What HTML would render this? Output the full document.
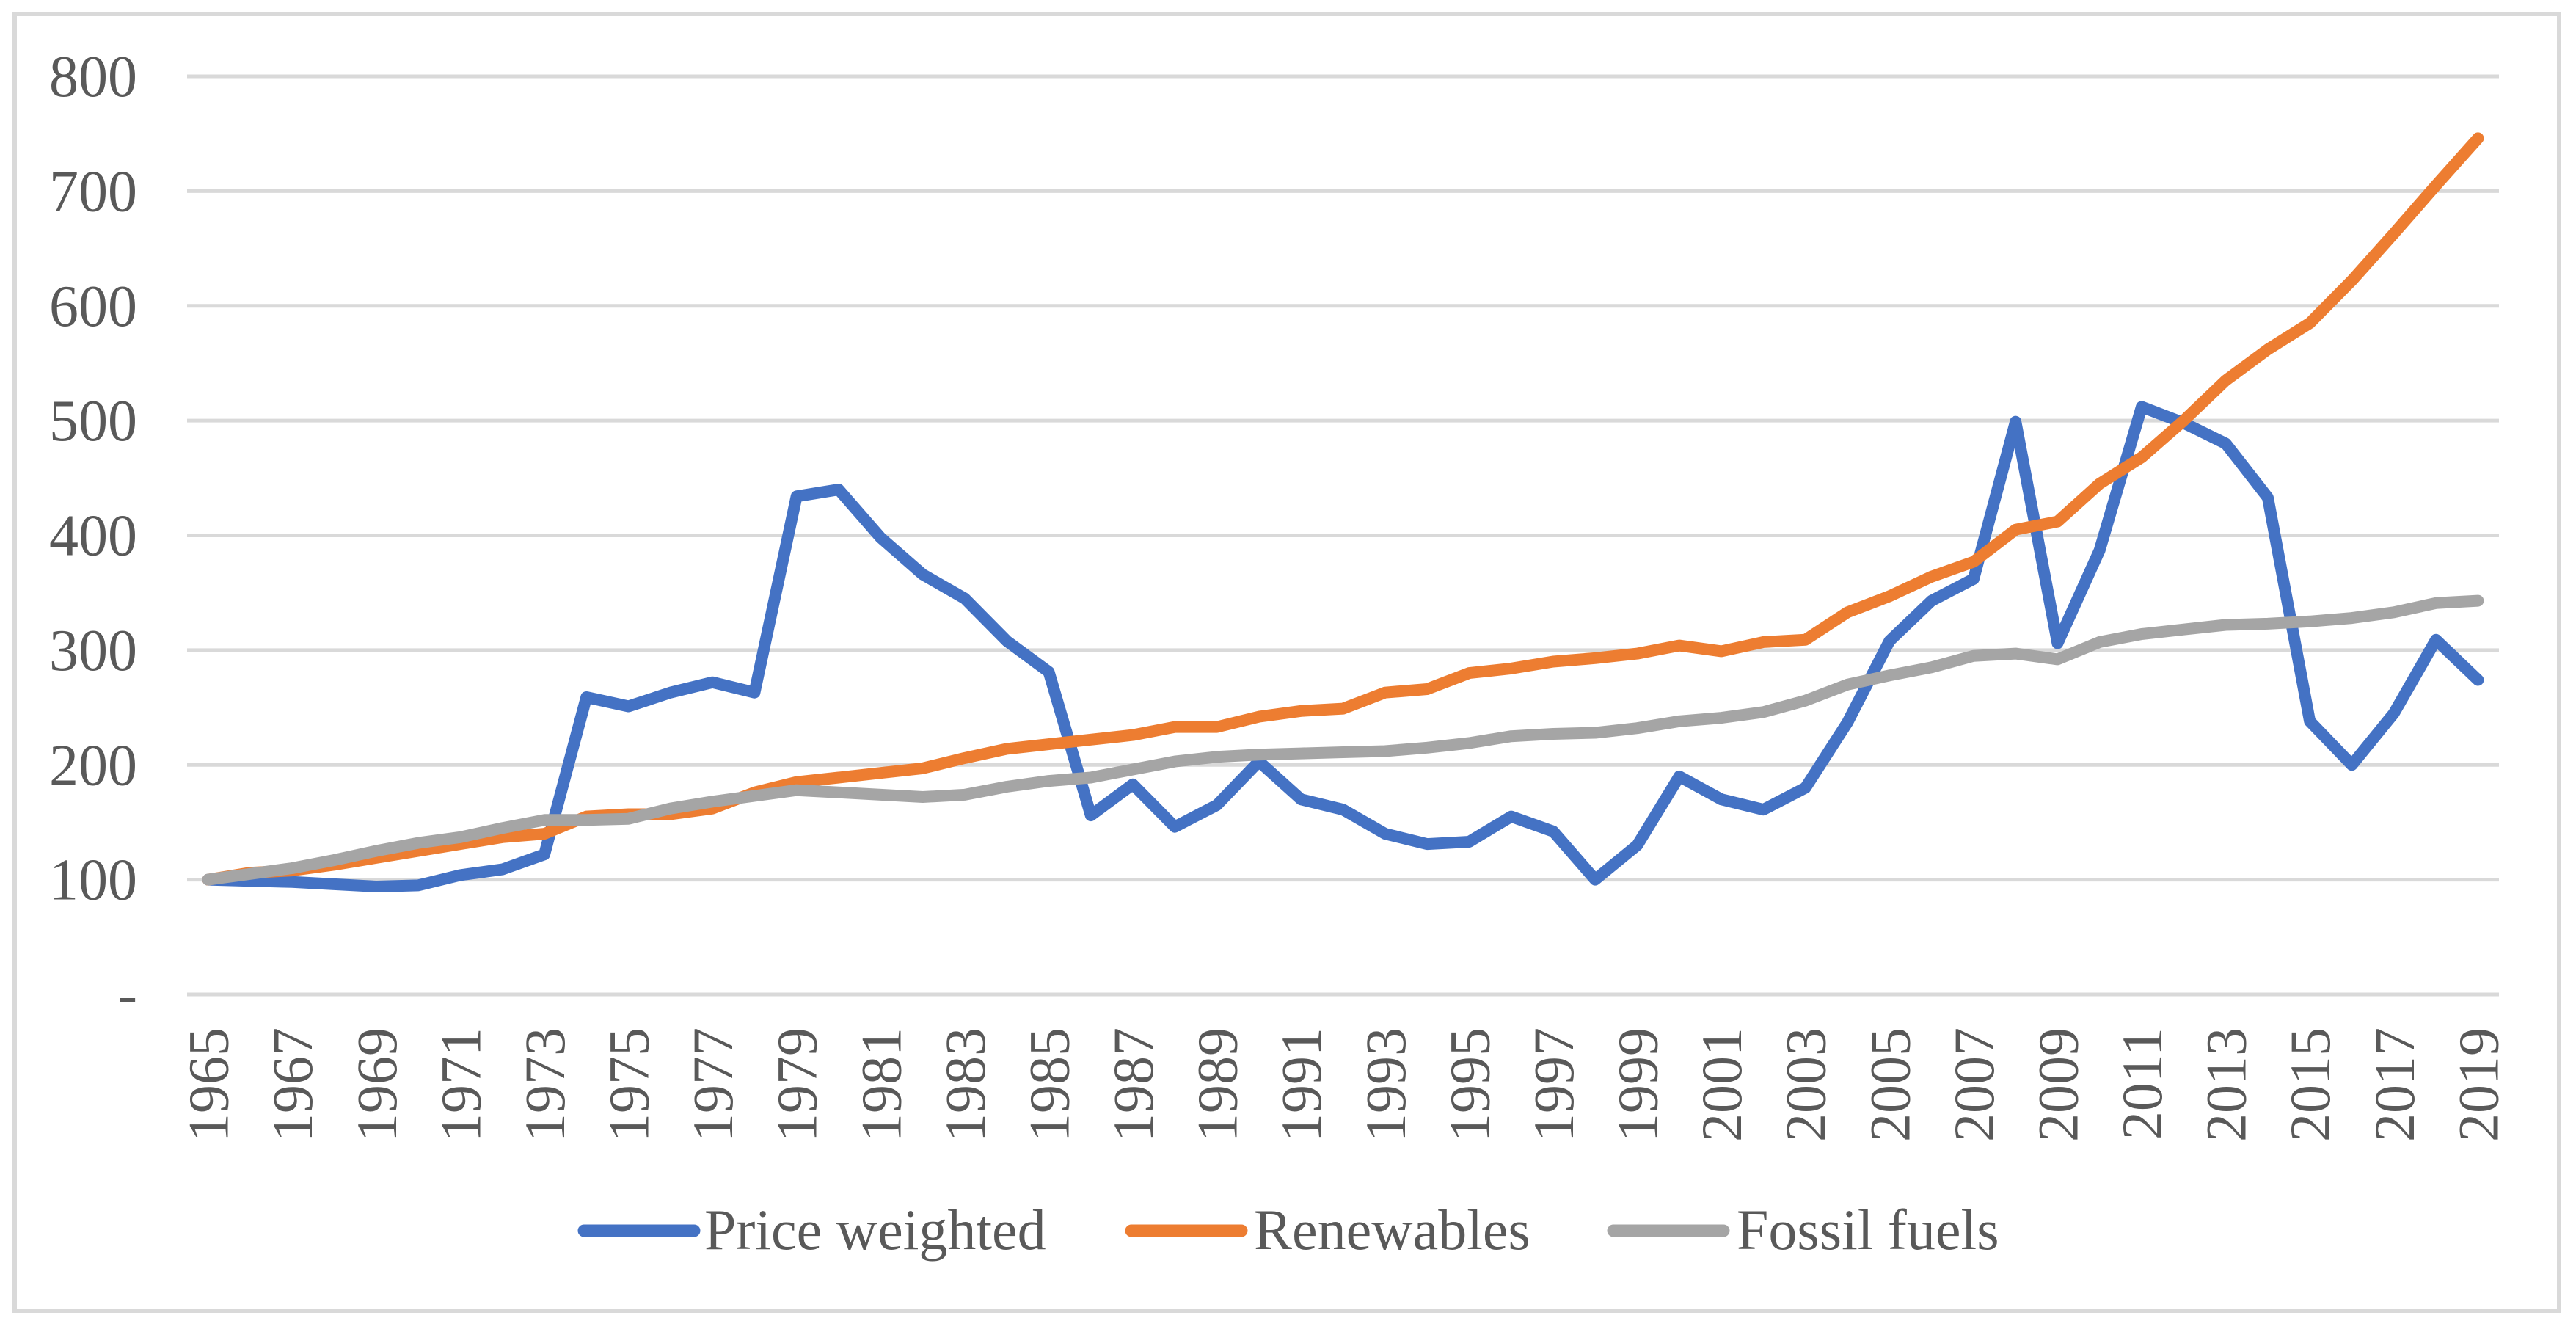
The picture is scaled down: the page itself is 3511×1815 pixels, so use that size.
<!DOCTYPE html>
<html><head><meta charset="utf-8"><style>
html,body{margin:0;padding:0;background:#fff;}
svg{display:block;}
text{font-family:"Liberation Serif",serif;fill:#595959;}
</style></head><body>
<svg id="chart" width="3511" height="1815" viewBox="0 0 3511 1815" xmlns="http://www.w3.org/2000/svg">
<rect x="20" y="19" width="3468" height="1767" fill="#fff" stroke="#d9d9d9" stroke-width="6"/>
<g id="grid"></g><g id="ylabels"></g><g id="xlabels"></g><g id="series"></g>
<g>
<g>
<line x1="796" y1="1677" x2="946" y2="1677" stroke="#4472c4" stroke-width="17" stroke-linecap="round"/>
<text x="960" y="1702" font-size="78">Price weighted</text></g>
<g>
<line x1="1542" y1="1677" x2="1692" y2="1677" stroke="#ed7d31" stroke-width="17" stroke-linecap="round"/>
<text x="1709" y="1702" font-size="78">Renewables</text></g>
<g>
<line x1="2199" y1="1677" x2="2349" y2="1677" stroke="#a5a5a5" stroke-width="17" stroke-linecap="round"/>
<text x="2367" y="1702" font-size="78">Fossil fuels</text></g>
</g>
</svg>
<script>
const years = [];
for (let y = 1965; y <= 2019; y++) years.push(y);
const priceWeighted = [100,99,98,96,94,95,104,109,122,259,251,263,272,263,434,440,398,366,345,308,281,156,183,146,165,203,170,161,140,131,133,155,142,100,130,190,170,161,180,237,308,343,362,499,306,387,512,498,480,433,238,200,245,309,274];
const renewables = [100,106,108,113,119,125,131,137,140,155,157,157,162,176,185,189,193,197,206,214,218,222,226,233,233,242,247,249,263,266,280,284,290,293,297,304,299,307,309,333,347,364,377,405,412,445,468,500,535,562,585,622,663,705,746];
const fossilFuels = [100,105,110,117,125,132,137,145,152,152,153,162,168,173,178,176,174,172,174,181,186,189,196,203,207,209,210,211,212,215,219,225,227,228,232,238,241,246,256,270,278,285,295,297,292,307,314,318,322,323,325,328,333,341,343];
const yTicks = [0,100,200,300,400,500,600,700,800];
const yTickLabels = ["-","100","200","300","400","500","600","700","800"];

const NS = "http://www.w3.org/2000/svg";
const L = 255, R = 3406, Y0 = 1355, YMAX = 104;
const step = (R - L) / years.length;
function xPos(i){ return L + (i + 0.5) * step; }
function yPos(v){ return Y0 - v * (Y0 - YMAX) / 800; }
function mk(tag, attrs){ const e = document.createElementNS(NS, tag); for (const k in attrs) e.setAttribute(k, attrs[k]); return e; }

const grid = document.getElementById('grid'), yl = document.getElementById('ylabels'), xl = document.getElementById('xlabels'), ser = document.getElementById('series');
yTicks.forEach((t, i) => {
  const g = mk('line', {x1: L, x2: R, y1: yPos(t), y2: yPos(t), stroke: '#d9d9d9', 'stroke-width': 5});
  
  
  grid.appendChild(g);
  const tx = mk('text', {x: 187, y: yPos(t) + 27, 'text-anchor': 'end', 'font-size': 80});
  tx.textContent = yTickLabels[i];
  
  
  yl.appendChild(tx);
});
years.forEach((yr, i) => {
  if (i % 2) return;
  const x = xPos(i) + 27, y = 1400;
  const tx = mk('text', {x: x, y: y, 'text-anchor': 'end', 'font-size': 78, transform: 'rotate(-90 ' + x + ' ' + y + ')'});
  tx.textContent = yr;
  
  
  xl.appendChild(tx);
});
function draw(data, color, name){
  const pts = data.map((v, i) => xPos(i).toFixed(1) + ',' + yPos(v).toFixed(1)).join(' ');
  const p = mk('polyline', {points: pts, fill: 'none', stroke: color, 'stroke-width': 16, 'stroke-linejoin': 'round', 'stroke-linecap': 'round'});
  
  
  ser.appendChild(p);
}
draw(priceWeighted, '#4472c4', 'series-price-weighted');
draw(renewables, '#ed7d31', 'series-renewables');
draw(fossilFuels, '#a5a5a5', 'series-fossil-fuels');
</script>
</body></html>
